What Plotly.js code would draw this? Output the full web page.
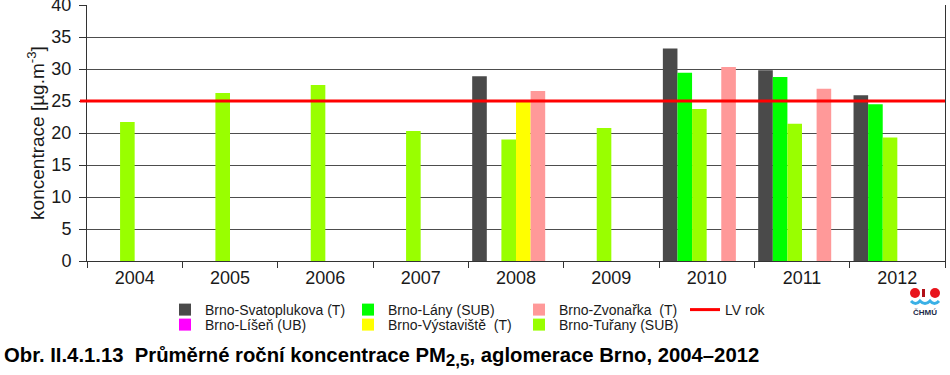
<!DOCTYPE html>
<html>
<head>
<meta charset="utf-8">
<script src="https://cdn.plot.ly/plotly-3.0.1.min.js"></script>
<style>html,body{margin:0;padding:0;background:#fff;}#chart{width:950px;height:375px;}</style>
</head>
<body>
<div id="chart"></div>
<script>
// ---- data ----
const YEARS = ['2004','2005','2006','2007','2008','2009','2010','2011','2012'];
const SERIES_NAMES = ['Brno-Svatoplukova (T)','Brno-Líšeň (UB)','Brno-Lány (SUB)','Brno-Výstaviště  (T)','Brno-Zvonařka  (T)','Brno-Tuřany (SUB)'];
const SVATOPLUKOVA = [null,null,null,null,28.85,null,33.2,29.8,25.9];
const LISEN        = [null,null,null,null,null,null,null,null,null];
const LANY         = [null,null,null,null,null,null,29.4,28.75,24.5];
const VYSTAVISTE   = [null,null,null,null,25.1,null,null,null,null];
const ZVONARKA     = [null,null,null,null,26.55,null,30.3,26.9,null];
const TURANY       = [21.7,26.25,27.5,20.3,19.0,20.8,23.75,21.45,19.3];
const LV_NAME = 'LV rok';
const LV = 25;
const Y_TICKS = [0,5,10,15,20,25,30,35,40];

// ---- geometry helpers (layout only) ----
const W = 950, H = 375, ML = 87, MR = 5, MT = 5, MB = 114;
const PW = W - ML - MR, PH = H - MT - MB;
const px = x => (x - ML) / PW;
const py = y => (H - MB - y) / PH;

const FONT = '"Liberation Sans", Arial, sans-serif';
const TXT = '#1a1a1a';

function bar(name, y, color, group, legendId) {
  return {
    type: 'bar', name: name, x: YEARS, y: y,
    marker: {color: color, line: {width: 0}},
    offsetgroup: group, legend: legendId, hoverinfo: 'x+y+name'
  };
}

const traces = [
  bar(SERIES_NAMES[0], SVATOPLUKOVA, '#4a4a4a', 'g1', 'legend'),
  bar(SERIES_NAMES[2], LANY, '#00ff00', 'g2', 'legend3'),
  bar(SERIES_NAMES[5], TURANY, '#99ff00', 'g3', 'legend6'),
  bar(SERIES_NAMES[3], VYSTAVISTE, '#ffff00', 'g4', 'legend4'),
  bar(SERIES_NAMES[4], ZVONARKA, '#ff9999', 'g5', 'legend5'),
  bar(SERIES_NAMES[1], LISEN, '#ff00ff', 'g6', 'legend2')
];

function leg(xpx, ypx) {
  return {x: px(xpx), y: py(ypx), xanchor: 'left', yanchor: 'middle',
    orientation: 'v', bgcolor: 'rgba(0,0,0,0)', borderwidth: 0,
    font: {family: FONT, size: 14, color: TXT}};
}
const ROW1 = 310, ROW2 = 325;

// logo shapes (decoration)
const logoShapes = [
  {type:'circle', xref:'paper', yref:'paper', x0:px(910), x1:px(920), y0:py(298), y1:py(288), fillcolor:'#e8141c', line:{width:0}},
  {type:'circle', xref:'paper', yref:'paper', x0:px(930), x1:px(940), y0:py(298), y1:py(288), fillcolor:'#e8141c', line:{width:0}},
  {type:'rect', xref:'paper', yref:'paper', x0:px(922), x1:px(925), y0:py(297), y1:py(289), fillcolor:'#b01018', line:{width:0}},
  {type:'path', xref:'paper', yref:'paper',
   path: 'M '+px(911)+','+py(301)+' Q '+px(915.5)+','+py(306)+' '+px(920)+','+py(301)+' Q '+px(925)+','+py(306)+' '+px(930)+','+py(301)+' Q '+px(934.5)+','+py(306)+' '+px(939)+','+py(301),
   line:{color:'#3ab0e6', width:3}}
];

const layout = {
  width: W, height: H,
  margin: {l: ML, r: MR, t: MT, b: MB, pad: 0},
  paper_bgcolor: '#fff', plot_bgcolor: '#fff',
  font: {family: FONT, color: TXT},
  barmode: 'group', bargap: 0.081, bargroupgap: 0,
  showlegend: true,
  xaxis: {
    type: 'category', categoryorder: 'array', categoryarray: YEARS,
    showgrid: false, showline: true, linecolor: '#333', linewidth: 1,
    ticks: 'outside', tickson: 'boundaries', ticklen: 6, tickcolor: '#333',
    tickfont: {family: FONT, size: 18, color: TXT},
    zeroline: false, fixedrange: true
  },
  yaxis: {
    range: [0, 40], tickvals: Y_TICKS, ticktext: Y_TICKS.map(String),
    showgrid: true, gridcolor: '#4d4d4d', gridwidth: 1,
    showline: true, mirror: true, linecolor: '#333', linewidth: 1,
    ticks: 'outside', ticklen: 7, tickcolor: '#333', ticklabelstandoff: 4,
    ticklabeloverflow: 'allow',
    tickfont: {family: FONT, size: 18, color: TXT},
    zeroline: false, fixedrange: true,
    title: {text: 'koncentrace [µg.m<sup>-3</sup>]', font: {family: FONT, size: 19, color: TXT}, standoff: 1}
  },
  legend:  leg(165, ROW1),
  legend2: leg(165, ROW2),
  legend3: leg(348, ROW1),
  legend4: leg(348, ROW2),
  legend5: leg(519, ROW1),
  legend6: leg(519, ROW2),
  legend7: leg(685, ROW1),
  shapes: [
    {type: 'line', xref: 'paper', yref: 'y', x0: px(80), x1: 1, y0: LV, y1: LV,
     line: {color: '#ff0000', width: 3}, layer: 'above',
     showlegend: true, name: LV_NAME, legend: 'legend7'}
  ].concat(logoShapes),
  annotations: [
    {xref:'paper', yref:'paper', x: px(2), y: py(357), xanchor:'left', yanchor:'middle', showarrow:false,
     text: '<b>Obr. II.4.1.13  Průměrné roční koncentrace PM<sub><span style="font-size:17px">2,5</span></sub>, aglomerace Brno, 2004–2012</b>',
     font: {family: FONT, size: 20.3, color: '#000'}},
    {xref:'paper', yref:'paper', x: px(925), y: py(312), xanchor:'center', yanchor:'middle', showarrow:false,
     text: '<b>ČHMÚ</b>', font: {family: FONT, size: 8, color: '#1a2a4a'}}
  ]
};

Plotly.newPlot('chart', traces, layout, {displayModeBar: false, staticPlot: true});
</script>
</body>
</html>
